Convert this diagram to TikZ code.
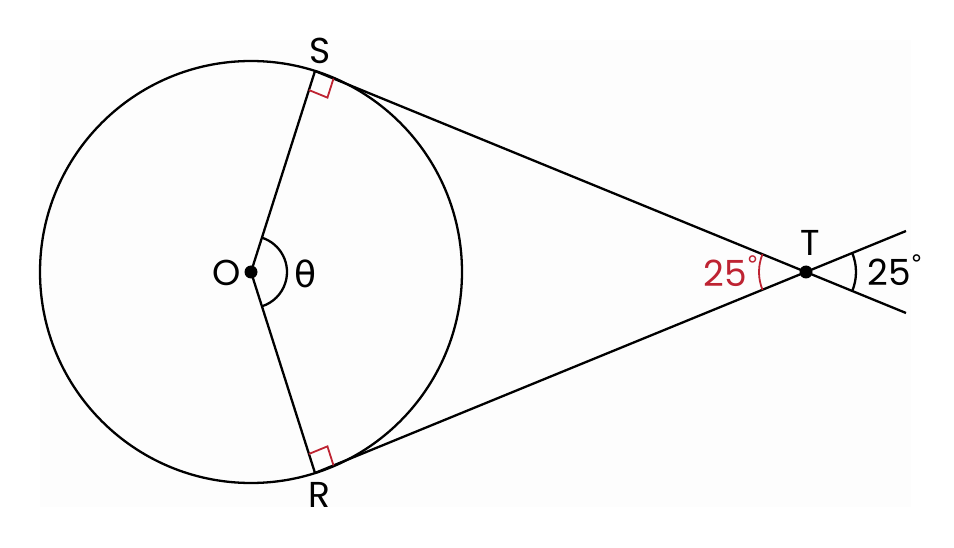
\documentclass[tikz,border=0pt]{standalone}
\usepackage{fontspec}
\setmainfont{Poppins}
\newfontfamily\gk{DejaVu Sans}
\usetikzlibrary{calc}
\definecolor{angred}{RGB}{190,35,50}
\definecolor{bgpanel}{RGB}{253,253,253}
\newcommand{\degsym}{\raisebox{0.36em}{\fontsize{24}{24}\selectfont\gk °}}
\tikzset{
  geo/.style={line width=2.3pt, black},
  redmark/.style={line width=1.8pt, angred},
  lbl/.style={inner sep=0pt, font=\fontsize{36}{42}\selectfont},
  dot/.style={circle, fill=black, inner sep=0pt, minimum size=13pt},
}
\begin{document}
\begin{tikzpicture}[x=1pt,y=-1pt]
\useasboundingbox (0,0) rectangle (954,548);
\fill[bgpanel] (40,40) rectangle (911,507);
\coordinate (O) at (251,272);
\coordinate (S) at (315,71);
\coordinate (R) at (315,473);
\coordinate (T) at (806,272);
\coordinate (E1) at (906,231);
\coordinate (E2) at (906,313);
% circle and radii
\draw[geo] (O) circle[radius=211];
\draw[geo] (O) -- (S);
\draw[geo] (O) -- (R);
% tangents
\draw[geo] (S) -- (E2);
\draw[geo] (R) -- (E1);
% right angle marks
\coordinate (s1) at ($(S)!20pt!(O)$);
\coordinate (s2) at ($(S)!20pt!(T)$);
\draw[redmark] (s1) -- ($(s1)+(s2)-(S)$) -- (s2);
\coordinate (r1) at ($(R)!20pt!(O)$);
\coordinate (r2) at ($(R)!20pt!(T)$);
\draw[redmark] (r1) -- ($(r1)+(r2)-(R)$) -- (r2);
% angle arcs
\draw[geo] ($(O)+(-72:36)$) arc[start angle=-72, end angle=72, radius=36];
\draw[redmark] ($(T)+(157.7:47)$) arc[start angle=157.7, end angle=202.3, radius=47];
\draw[geo] ($(T)+(-22.3:50)$) arc[start angle=-22.3, end angle=22.3, radius=50];
% points
\node[dot] (Odot) at (O) {};
\node[dot] (Tdot) at (T) {};
% labels
\node[lbl] (labS) at (320,51) {S};
\node[lbl] (labO) at (227,273) {O};
\node[lbl] (labR) at (319,495) {R};
\node[lbl] (labT) at (810,243) {T};
\node[lbl] (labth) at (306,274) {\gk θ};
\node[lbl, text=angred] (labA) at (731,271) {25\degsym};
\node[lbl] (labB) at (895,270) {25\degsym};
\end{tikzpicture}
\end{document}
